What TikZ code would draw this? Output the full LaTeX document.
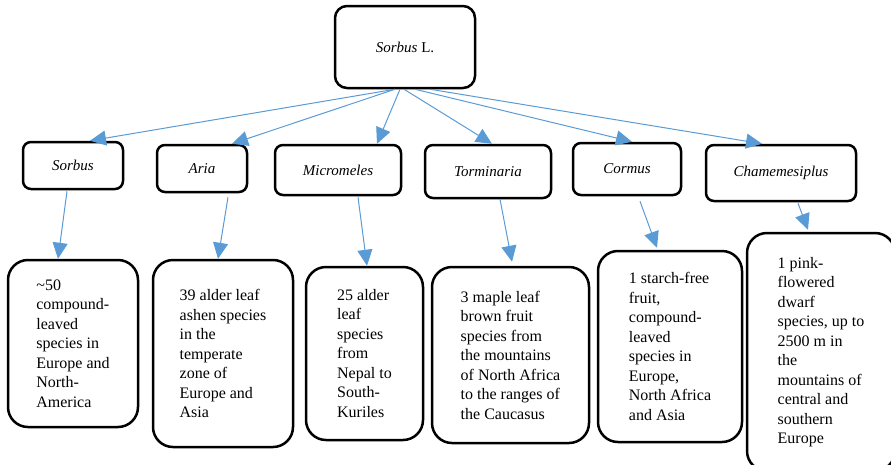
\documentclass[tikz,border=0pt]{standalone}
\usepackage{fontspec}
\setmainfont{LiberationSerif}[Extension=.ttf,UprightFont=*-Regular,ItalicFont=*-Italic,BoldFont=*-Bold,BoldItalicFont=*-BoldItalic]
\usetikzlibrary{arrows.meta}
\definecolor{linkblue}{RGB}{91,155,213}

\begin{document}
\begin{tikzpicture}[x=1pt,y=-1pt,
  box/.style={draw,line width=2.5pt,align=left,inner sep=0pt,font=\fontsize{16}{19.5}\selectfont},
  genus/.style={draw,line width=2.5pt,rounded corners=8pt,inner sep=0pt,font=\fontsize{15}{18}\selectfont\itshape},
  link/.style={draw=linkblue,line width=1pt,-{Triangle[length=16pt,width=15pt]}}]
\useasboundingbox(0,0)rectangle(891,464);
\node[genus,rounded corners=12pt,minimum width=140pt,minimum height=82pt,font=\fontsize{15}{18}\selectfont](top)at(405,47){\textit{Sorbus} L.};
\node[genus,minimum width=100pt,minimum height=47pt](sorbus)at(73,165.5){Sorbus};
\node[genus,minimum width=90pt,minimum height=47pt](aria)at(202,168.5){Aria};
\node[genus,minimum width=126pt,minimum height=50pt](micromeles)at(338,170){Micromeles};
\node[genus,minimum width=126pt,minimum height=53pt](torminaria)at(488,171.5){Torminaria};
\node[genus,minimum width=108pt,minimum height=52pt](cormus)at(627,169){Cormus};
\node[genus,minimum width=150pt,minimum height=56pt](chamemesiplus)at(781,173){Chamemesiplus};
\node[box,rounded corners=20pt,minimum width=130pt,minimum height=167pt](sorbusinfo)at(73,343.5){\textasciitilde50\\compound-\\leaved\\species in\\Europe and\\North-\\America};
\node[box,rounded corners=20pt,minimum width=140pt,minimum height=187pt](ariainfo)at(223,353.5){39 alder leaf\\ashen species\\in the\\temperate\\zone of\\Europe and\\Asia};
\node[box,rounded corners=20pt,minimum width=117pt,minimum height=173pt](micromelesinfo)at(364.5,353.5){25 alder\\leaf\\species\\from\\Nepal to\\South-\\Kuriles};
\node[box,rounded corners=20pt,minimum width=157pt,minimum height=176pt](torminariainfo)at(510.5,355){3 maple leaf\\brown fruit\\species from\\the mountains\\of North Africa\\to the ranges of\\the Caucasus};
\node[box,rounded corners=20pt,minimum width=144pt,minimum height=191pt](cormusinfo)at(670,346.5){1 starch-free\\fruit,\\compound-\\leaved\\species in\\Europe,\\North Africa\\and Asia};
\node[box,rounded corners=20pt,minimum width=148pt,minimum height=238pt](chamemesiplusinfo)at(821,352){1 pink-\\flowered\\dwarf\\species, up to\\2500 m in\\the\\mountains of\\central and\\southern\\Europe};
\draw[link]([xshift=-10pt]top.south)--([xshift=17pt]sorbus.north);
\draw[link]([xshift=-10pt]top.south)--([xshift=30pt]aria.north);
\draw[link]([xshift=-5pt]top.south)--([xshift=39pt]micromeles.north);
\draw[link]([xshift=-1pt]top.south)--([xshift=4pt]torminaria.north);
\draw[link]([xshift=10pt]top.south)--([xshift=5pt]cormus.north);
\draw[link]([xshift=25pt]top.south)--([xshift=-19pt]chamemesiplus.north);
\draw[link]([xshift=-6pt,yshift=-1pt]sorbus.south)--([xshift=-15pt]sorbusinfo.north);
\draw[link]([xshift=26pt,yshift=-4pt]aria.south)--([xshift=-5pt]ariainfo.north);
\draw[link]([xshift=20pt,yshift=-1pt]micromeles.south)--([xshift=2.5pt]micromelesinfo.north);
\draw[link]([xshift=12pt]torminaria.south)--([xshift=1.5pt,yshift=4pt]torminariainfo.north);
\draw[link]([xshift=13pt,yshift=-5pt]cormus.south)--([xshift=-13pt,yshift=2pt]cormusinfo.north);
\draw[link]([xshift=17pt,yshift=-1pt]chamemesiplus.south)--([xshift=-13pt,yshift=2pt]chamemesiplusinfo.north);
\end{tikzpicture}
\end{document}
